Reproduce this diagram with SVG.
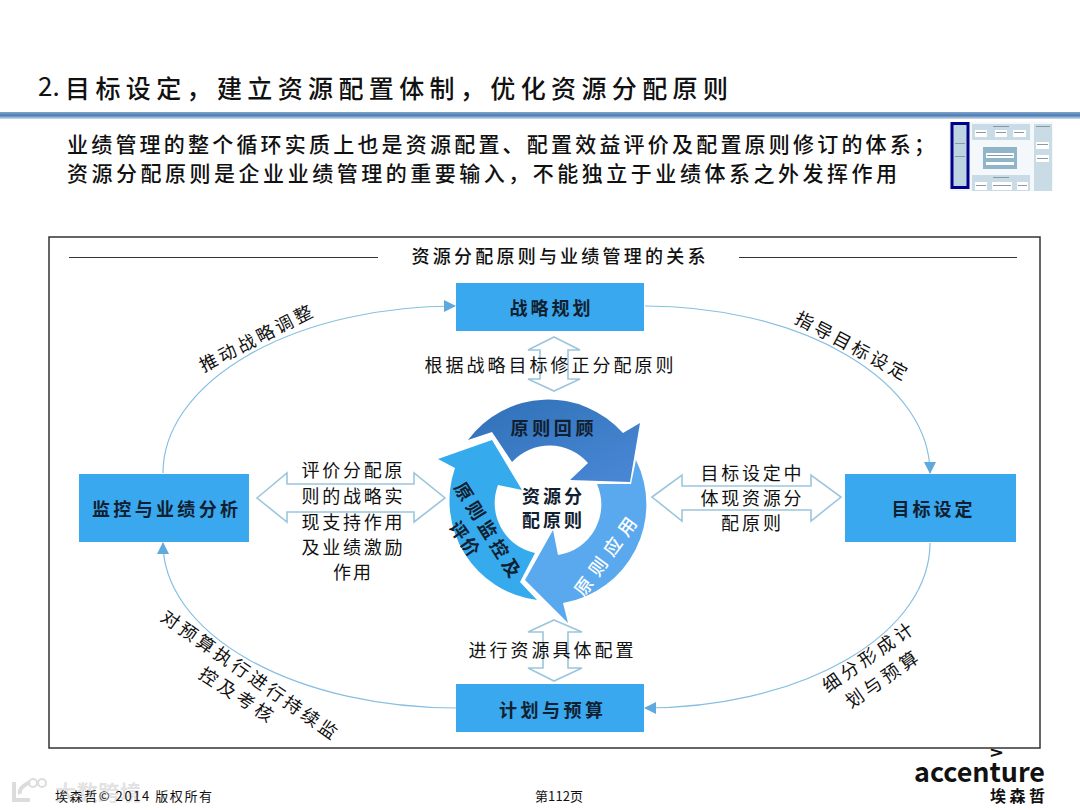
<svg xmlns="http://www.w3.org/2000/svg" width="1080" height="810" viewBox="0 0 1080 810">
<style>
text{font-family:"Noto Sans CJK SC","Noto Sans",sans-serif;fill:#111}
.m{text-anchor:middle}
.t{font-size:18px}
.b{font-size:18px;font-weight:700;text-anchor:middle;fill:#102030}
.node{fill:#3aa8ee}
.conn{fill:none;stroke:#86bfe2;stroke-width:1.2;marker-end:url(#ah)}
.dbl{fill:#fff;stroke:#9cc6de;stroke-width:1.6}
.th{fill:#c9dce6}
.tw{fill:#fff}
.tg{fill:#8a9aa4}
</style>
<defs>
<marker id="ah" markerUnits="userSpaceOnUse" markerWidth="14" markerHeight="14" refX="11" refY="6" orient="auto"><path d="M0 0L12 6L0 12Z" fill="#5fa9dc"/></marker>
<linearGradient id="dk" x1="0" y1="0" x2="1" y2="1"><stop offset="0" stop-color="#2f70b6"/><stop offset="1" stop-color="#4a88d6"/></linearGradient>
<linearGradient id="rule" x1="0" y1="0" x2="0" y2="1"><stop offset="0" stop-color="#7fa5d0"/><stop offset=".5" stop-color="#4f7fb5"/><stop offset="1" stop-color="#d5e0ec"/></linearGradient>
<filter id="soft" x="-5%" y="-5%" width="110%" height="110%"><feGaussianBlur stdDeviation="0.5"/></filter>
</defs>
<rect width="1080" height="810" fill="#fff"/>
<text x="38" y="96" font-size="26" font-family="Liberation Sans">2.</text>
<text x="65" y="98" font-size="25" font-weight="500" textLength="663">目标设定，建立资源配置体制，优化资源分配原则</text>
<rect x="0" y="112" width="1080" height="7" fill="url(#rule)"/>
<text x="67" y="152" font-size="21" font-weight="500" textLength="868">业绩管理的整个循环实质上也是资源配置、配置效益评价及配置原则修订的体系；</text>
<text x="67" y="181" font-size="21" font-weight="500" textLength="830">资源分配原则是企业业绩管理的重要输入，不能独立于业绩体系之外发挥作用</text>
<g id="thumbnail" filter="url(#soft)">
<rect x="949" y="122" width="104" height="69" fill="#f4f8fa"/>
<rect x="952" y="123.500" width="16" height="64" fill="#bcd4e2" stroke="#00008b" stroke-width="3"/>
<rect x="972" y="124" width="58" height="16" class="th"/>
<rect x="1034" y="124" width="18" height="67" class="th"/>
<rect x="972" y="175" width="58" height="16" class="th"/>
<rect x="983" y="147" width="34" height="22" fill="#8fb6c8"/>
<rect x="975" y="130" width="12" height="7" class="tw"/><rect x="995" y="130" width="12" height="7" class="tw"/><rect x="1013" y="130" width="13" height="7" class="tw"/>
<rect x="986" y="153" width="28" height="5" class="tw"/><rect x="986" y="162" width="28" height="3" class="tw"/>
<rect x="975" y="182" width="12" height="8" class="tw"/><rect x="992" y="182" width="20" height="8" class="tw"/><rect x="1017" y="182" width="11" height="8" class="tw"/>
<rect x="1036" y="142" width="13" height="7" class="tw"/><rect x="1036" y="155" width="13" height="7" class="tw"/>
<path class="tg" d="M976 132h10v1h-10zM996 132h10v1h-10zM1014 132h10v1h-10zM987 155h26v1h-26zM993 126h16v1h-16zM993 177h16v1h-16zM1036 126h14v1h-14zM955 143h10v1h-10zM955 156h10v1h-10zM976 185h10v1h-10zM993 185h18v1h-18zM1018 185h9v1h-9zM1037 144h11v1h-11zM1037 158h11v1h-11z"/>
</g>
<rect x="49" y="237" width="991" height="511" fill="none" stroke="#333" stroke-width="1.5"/>
<path d="M69 257.500H378M739 257.500H1017" stroke="#333" stroke-width="1.2"/>
<text x="558.500" y="263" class="t m" font-weight="500" textLength="294">资源分配原则与业绩管理的关系</text>
<g id="connectors">
<path class="conn" d="M163 473A292 167 0 0 1 455 306"/>
<path class="conn" d="M645 306A285 167 0 0 1 930 473"/>
<path class="conn" d="M930 543A285 165 0 0 1 645 708"/>
<path class="conn" d="M456 708A293 165 0 0 1 163 543"/>
<path class="dbl" d="M257 498L287 473V484H414V473L445 498L414 522V512H287V522Z"/>
<path class="dbl" d="M652 497L682 475V486H811V475L841 497L811 521V510H682V521Z"/>
<path class="dbl" d="M554 337L580 350H568V379H580L554 391L528 379H540V350H528Z"/>
<path class="dbl" d="M554 620L582 632H568V668H582L554 681L528 668H543V632H528Z"/>
</g>
<g id="ring">
<path id="r3" fill="#35abee" d="M438 459L492 440L522 490L498 485A51 51 0 0 0 535 553L520 582L537 600A100 100 0 0 1 455 468Z"/>
<path id="r2" fill="#5aa9ee" d="M636 460A100 100 0 0 1 563 603L568 623L525 580L553 530L558 555A51 51 0 0 0 597 484L631 484Z"/>
<path id="r1" fill="url(#dk)" d="M468 440A100 100 0 0 1 623 433L640 423L630 482L570 480L588 463A51 51 0 0 0 512 462L492 432Z"/>
<text x="552" y="435" class="b" textLength="83">原则回顾</text>
<text transform="translate(606 557) rotate(-54)" y="6" class="b" style="fill:#fff;font-weight:500" textLength="92">原则应用</text>
<text transform="translate(487 530) rotate(58)" y="6" class="b" textLength="108">原则监控及</text>
<text transform="translate(464 539) rotate(55)" y="6" class="b" textLength="38">评价</text>
<text x="552" y="503" class="b" textLength="60">资源分</text>
<text x="552" y="527" class="b" textLength="60">配原则</text>
</g>
<g id="node-strategy"><rect x="456" y="283" width="188" height="48" class="node"/><text x="550" y="315" class="b" textLength="81">战略规划</text></g>
<g id="node-target"><rect x="845" y="474" width="171" height="68" class="node"/><text x="932" y="516" class="b" textLength="81">目标设定</text></g>
<g id="node-budget"><rect x="456" y="684" width="188" height="48" class="node"/><text x="551" y="717" class="b" textLength="104">计划与预算</text></g>
<g id="node-monitor"><rect x="79" y="474" width="170" height="68" class="node"/><text x="165" y="516" class="b" textLength="146">监控与业绩分析</text></g>
<g id="labels">
<text x="352" y="477" class="t m" textLength="101">评价分配原</text>
<text x="352" y="503" class="t m" textLength="101">则的战略实</text>
<text x="352" y="529" class="t m" textLength="101">现支持作用</text>
<text x="352" y="554" class="t m" textLength="101">及业绩激励</text>
<text x="352" y="579" class="t m" textLength="38">作用</text>
<text x="751" y="480" class="t m" textLength="101">目标设定中</text>
<text x="751" y="505" class="t m" textLength="101">体现资源分</text>
<text x="751" y="530" class="t m" textLength="60">配原则</text>
<text x="549" y="372" class="t m" textLength="249">根据战略目标修正分配原则</text>
<text x="551" y="657" class="t m" textLength="165">进行资源具体配置</text>
<text transform="translate(256 339) rotate(-27)" y="6" class="t m" textLength="124">推动战略调整</text>
<text transform="translate(851 346) rotate(28)" y="6" class="t m" textLength="124">指导目标设定</text>
<text transform="translate(249 675) rotate(35)" y="6" class="t m" textLength="210">对预算执行进行持续监</text>
<text transform="translate(236 695) rotate(33)" y="6" class="t m" textLength="84">控及考核</text>
<text transform="translate(868 658) rotate(-35)" y="6" class="t m" textLength="106">细分形成计</text>
<text transform="translate(882 680) rotate(-35)" y="6" class="t m" textLength="84">划与预算</text>
</g>
<g id="watermark">
<path d="M14 782V800H30M30 782Q18 788 20 794" fill="none" stroke="#dcdcdc" stroke-width="4"/>
<circle cx="33" cy="783" r="4" fill="none" stroke="#dcdcdc" stroke-width="2"/><circle cx="42" cy="783" r="4" fill="none" stroke="#dcdcdc" stroke-width="2"/>
<text x="55" y="800" font-size="21" font-weight="700" textLength="86" style="fill:#e2e2e2">大数跨境</text>
</g>
<text x="55" y="801" font-size="13" textLength="157">埃森哲© 2014 版权所有</text>
<text x="559" y="801" font-size="13" class="m" textLength="48">第112页</text>
<g id="logo">
<text x="990" y="759" font-size="17" font-family="Liberation Sans" font-weight="700" textLength="13" lengthAdjust="spacingAndGlyphs">&gt;</text>
<text x="914" y="782" font-size="27" font-family="Liberation Sans" font-weight="700" textLength="131" lengthAdjust="spacingAndGlyphs">accenture</text>
<text x="990" y="802" font-size="16" font-weight="700" textLength="55">埃森哲</text>
</g>
</svg>
